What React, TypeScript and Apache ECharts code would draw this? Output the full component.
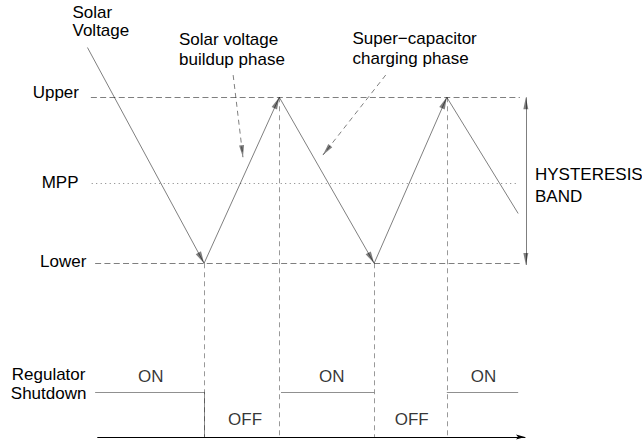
import React, { useEffect, useRef } from "react";
import * as echarts from "echarts";

// Time axis in arbitrary units (0 = start of time axis, 100 = arrow tip)
// Voltage axis normalised: Lower = 0, Upper = 1
const levelNames = ["Upper", "MPP", "Lower"];
const levelValues = [1, 0.48, 0];
const levelStart = [-1.6, -1.4, -0.6];
const levelEnd = [98.8, 98.4, 99.5];

const solarTimes = [-2.4, 24.9, 42.5, 64.7, 81.7, 98.4];
const solarVoltage = [1.3, 0, 1, 0, 1, 0.3];

const switchTimes = [24.9, 42.5, 64.7, 81.7];
const switchVoltage = [0, 1, 0, 1];

const ON_LEVEL = -0.775;
const OFF_LEVEL = -1.046;
const regulatorOnFrom = [-0.6, 42.9, 81.7];
const regulatorOnTo = [24.9, 64.7, 98.4];
const regulatorStates = ["ON", "OFF", "ON", "OFF", "ON"];
const regulatorStateTimes = [12.4, 34.5, 54.8, 73.5, 90.3];

const hysteresisTime = 100.2;
const buildupArrow = [[31.7, 1.134], [34.0, 0.639]];
const chargingArrow = [[67.4, 1.134], [52.7, 0.652]];

const FONT = '"Liberation Sans", Arial, Helvetica, sans-serif';
// triangle whose tip sits at the symbol centre
const TRI = "path://M0,-12L0,-12M0,0L3,12L-3,12Z";
const AXIS_ARROW = "path://M0,-9L0,-9M0,0L2.5,9L0,7L-2.5,9Z";

function seg(a: number[], b: number[]) {
  return { coords: [a, b] };
}

export default function App() {
  const ref = useRef<HTMLDivElement>(null);
  useEffect(() => {
    if (!ref.current) return;
    const chart = echarts.init(ref.current, null, { renderer: "svg" });

    const solarSegs = [];
    for (let i = 0; i < solarTimes.length - 1; i++) {
      solarSegs.push({
        coords: [
          [solarTimes[i], solarVoltage[i]],
          [solarTimes[i + 1], solarVoltage[i + 1]],
        ],
        last: i === solarTimes.length - 2,
      });
    }

    const text = (t: string, x: number, y: number, align: string, lh = 19) => ({
      type: "text",
      x,
      y,
      silent: true,
      style: {
        text: t,
        fill: "#000",
        fontSize: 17,
        fontFamily: FONT,
        align,
        verticalAlign: "middle",
        lineHeight: lh,
      },
    });

    const option: any = {
      animation: false,
      grid: { left: 97.7, right: 117, top: 39.2, bottom: 4.1 },
      xAxis: {
        type: "value",
        min: 0,
        max: 100,
        axisLabel: { show: false },
        axisTick: { show: false },
        splitLine: { show: false },
        axisLine: {
          show: true,
          onZero: false,
          lineStyle: { color: "#000", width: 1 },
          symbol: ["none", AXIS_ARROW],
          symbolSize: [5, 18],
        },
      },
      yAxis: {
        type: "value",
        min: OFF_LEVEL,
        max: 1.35,
        show: false,
      },
      graphic: {
        elements: [
          text("Solar\nVoltage", 72.5, 21.9, "left", 18),
          text("Solar voltage\nbuildup phase", 179, 49.5, "left", 19.5),
          text("Super\u2212capacitor\ncharging phase", 352.5, 48.3, "left", 20.3),
          text("HYSTERESIS\nBAND", 535, 185.8, "left", 22),
          text("Regulator\nShutdown", 48.6, 384, "center", 19),
          text(levelNames[0], 79, 92, "right"),
          text(levelNames[1], 78.5, 182.3, "right"),
          text(levelNames[2], 86.3, 261.7, "right"),
        ],
      },
      series: [
        {
          name: "levels",
          type: "lines",
          coordinateSystem: "cartesian2d",
          clip: false,
          silent: true,
          symbol: ["none", "none"],
          data: levelValues.map((v, i) => ({
            coords: [
              [levelStart[i], v],
              [levelEnd[i], v],
            ],
            lineStyle:
              levelNames[i] === "MPP"
                ? { type: [1, 3.5], color: "#000", width: 1 }
                : { type: [6, 3.3], color: "#000", width: 1 },
          })),
        },
        {
          name: "switch markers",
          type: "lines",
          coordinateSystem: "cartesian2d",
          clip: false,
          silent: true,
          symbol: ["none", "none"],
          lineStyle: { type: [5, 4], color: "#333", width: 1 },
          data: switchTimes.map((t, i) =>
            seg([t, switchVoltage[i]], [t, OFF_LEVEL])
          ),
        },
        {
          name: "regulator",
          type: "lines",
          coordinateSystem: "cartesian2d",
          clip: false,
          silent: true,
          symbol: ["none", "none"],
          lineStyle: { type: "solid", color: "#222", width: 1 },
          data: [
            ...regulatorOnFrom.map((t, i) =>
              seg([t, ON_LEVEL], [regulatorOnTo[i], ON_LEVEL])
            ),
            seg([regulatorOnTo[0], ON_LEVEL], [regulatorOnTo[0], OFF_LEVEL]),
          ],
        },
        {
          name: "Solar Voltage",
          type: "lines",
          coordinateSystem: "cartesian2d",
          clip: false,
          silent: true,
          symbol: ["none", TRI],
          symbolSize: [
            [6, 24],
            [6, 24],
          ],
          lineStyle: { type: "solid", color: "#000", width: 1 },
          data: solarSegs
            .filter((s) => !s.last)
            .map((s) => ({ coords: s.coords })),
        },
        {
          name: "Solar Voltage tail",
          type: "lines",
          coordinateSystem: "cartesian2d",
          clip: false,
          silent: true,
          symbol: ["none", "none"],
          lineStyle: { type: "solid", color: "#000", width: 1 },
          data: solarSegs
            .filter((s) => s.last)
            .map((s) => ({ coords: s.coords })),
        },
        {
          name: "phase pointers",
          type: "lines",
          coordinateSystem: "cartesian2d",
          clip: false,
          silent: true,
          symbol: ["none", TRI],
          symbolSize: [
            [5, 24],
            [5, 24],
          ],
          lineStyle: { type: [5, 4], color: "#000", width: 1 },
          data: [seg(buildupArrow[0], buildupArrow[1]), seg(chargingArrow[0], chargingArrow[1])],
        },
        {
          name: "hysteresis band",
          type: "lines",
          coordinateSystem: "cartesian2d",
          clip: false,
          silent: true,
          symbol: [TRI, TRI],
          symbolSize: [
            [5, 24],
            [5, 24],
          ],
          lineStyle: { type: "solid", color: "#000", width: 1 },
          data: [seg([hysteresisTime, levelValues[2] - 0.01], [hysteresisTime, levelValues[0]])],
        },
        {
          name: "regulator states",
          type: "scatter",
          silent: true,
          symbolSize: 0,
          data: regulatorStates.map((s, i) => ({
            name: s,
            value: [regulatorStateTimes[i], s === "ON" ? ON_LEVEL : OFF_LEVEL],
            label: {
              show: true,
              position: "inside",
              formatter: "{b}",
              offset: [0, s === "ON" ? -15 : -17],
              color: "#000",
              fontSize: 17,
              fontFamily: FONT,
            },
          })),
        },
      ],
    };
    chart.setOption(option);
    return () => chart.dispose();
  }, []);
  return (
    <div
      ref={ref}
      style={{ position: "absolute", left: 0, top: 0, width: 642, height: 441, background: "#fff" }}
    />
  );
}
